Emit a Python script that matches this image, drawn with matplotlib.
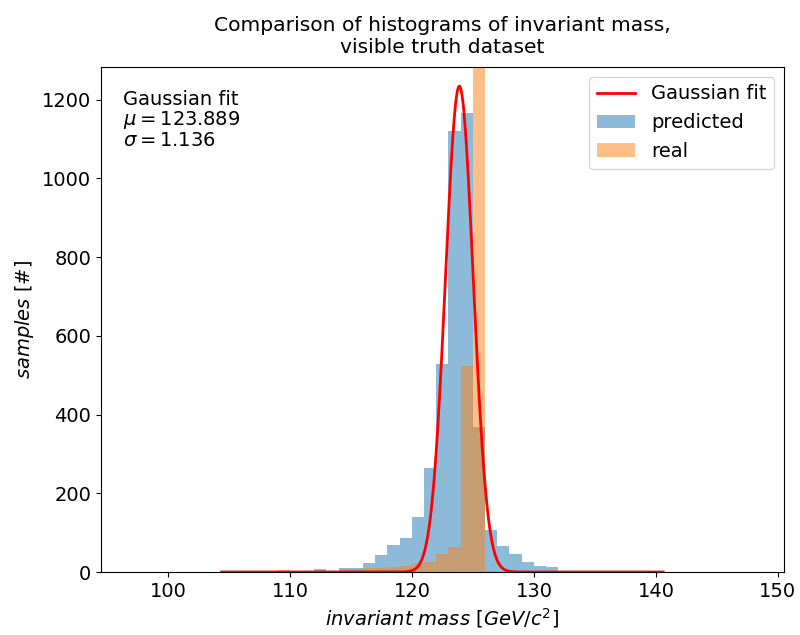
import numpy as np
import matplotlib
matplotlib.use("Agg")
import matplotlib.pyplot as plt
from matplotlib.patches import Patch
from matplotlib.lines import Line2D

# bin edges (GeV/c^2), width 1
bin_start = 104
bin_stop = 141
predicted_counts = [0, 0, 0, 0, 0, 0, 1, 1, 7, 1,
                    10, 10, 23, 43, 68, 86, 139, 263, 529, 1119,
                    1166, 368, 106, 66, 46, 25, 16, 13, 1, 0,
                    0, 0, 0, 0, 0, 0, 0]
real_counts = [1, 2, 1, 1, 2, 5, 1, 2, 2, 3,
               7, 8, 11, 11, 13, 15, 22, 25, 45, 63,
               522, 3300, 3, 1, 1, 0, 0, 0, 0, 0,
               0, 0, 0, 0, 0, 0, 1]

fit_mu = 123.889
fit_sigma = 1.136
fit_amp = 1234
fit_range = [104.4, 140.6]

edges = np.arange(bin_start, bin_stop + 1)
centers = edges[:-1] + 0.5

plt.rcParams['font.family'] = ['DejaVu Sans']
plt.rcParams['font.size'] = 14

fig = plt.figure(figsize=(8, 6.35), dpi=100)
ax = fig.add_axes([0.126, 0.0992, 0.854, 0.7953])

ax.hist(centers, bins=edges, weights=predicted_counts, alpha=0.5, color='C0', label='predicted')
ax.hist(centers, bins=edges, weights=real_counts, alpha=0.5, color='C1', label='real')

xf = np.linspace(fit_range[0], fit_range[1], 1000)
yf = fit_amp * np.exp(-0.5 * ((xf - fit_mu) / fit_sigma) ** 2)
ax.plot(xf, yf, color='red', lw=2, label='Gaussian fit')

ax.set_xlim(94.5, 150.5)
ax.set_ylim(0, 1.1 * max(predicted_counts))

ax.text(0.033, 0.955, 'Gaussian fit\n$\\mu = %.3f$\n$\\sigma = %.3f$' % (fit_mu, fit_sigma),
        transform=ax.transAxes, va='top', ha='left', linespacing=1.0)

handles = [Line2D([], [], color='red', lw=2),
           Patch(facecolor='C0', alpha=0.5),
           Patch(facecolor='C1', alpha=0.5)]
ax.legend(handles, ['Gaussian fit', 'predicted', 'real'], loc='upper right')

ax.set_xlabel(r'$invariant\ mass\ [GeV/c^2]$')
ax.set_ylabel(r'$samples\ [\#]$')
ax.set_title('Comparison of histograms of invariant mass,\nvisible truth dataset',
             fontsize=14.6, pad=10)

fig.savefig('out.png', dpi=100)
